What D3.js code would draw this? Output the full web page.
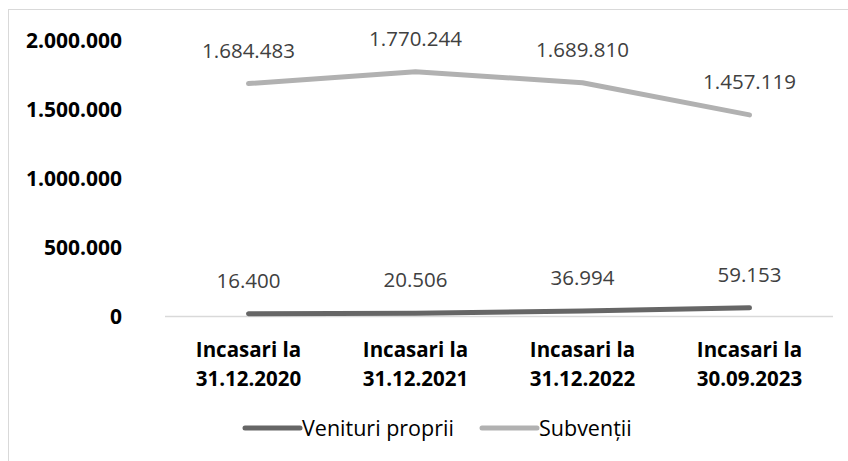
<!DOCTYPE html>
<html>
<head>
<meta charset="utf-8">
<script src="https://cdn.jsdelivr.net/npm/d3@7"></script>
<style>
  body { margin: 0; background: #fff; }
  svg { font-family: 'Open Sans', sans-serif; }
</style>
</head>
<body>
<svg id="chart" width="848" height="461"></svg>
<script>
// data
const categories = ['31.12.2020', '31.12.2021', '31.12.2022', '30.09.2023']
const venituriProprii = [16400, 20506, 36994, 59153]
const subventii = [1684483, 1770244, 1689810, 1457119]
const yTicks = [0, 500000, 1000000, 1500000, 2000000]

const series = [
  { name: 'Venituri proprii', values: venituriProprii, color: '#666666' },
  { name: 'Subvenții', values: subventii, color: '#b1b1b1' }
]

const locale = d3.formatLocale({ decimal: ',', thousands: '.', grouping: [3], currency: ['', ''] })
const fmt = locale.format(',.0f')

const svg = d3.select('#chart')

// outer frame (cut off at right and bottom)
svg.append('rect')
  .attr('x', 8.5).attr('y', 9.5)
  .attr('width', 900).attr('height', 600)
  .attr('fill', 'none')
  .attr('stroke', '#d9d9d9')

const x = d3.scaleBand()
  .domain(categories)
  .range([165, 833])

const y = d3.scaleLinear()
  .domain([0, 2000000])
  .range([316, 40])

// y axis labels
const yAxis = d3.axisLeft(y).tickValues(yTicks).tickFormat(fmt).tickSize(0).tickPadding(0)
svg.append('g')
  .attr('transform', 'translate(122,0)')
  .call(yAxis)
  .call(g => g.select('.domain').remove())
  .selectAll('text')
    .attr('font-family', 'Open Sans, sans-serif')
    .attr('font-size', 21)
    .attr('font-weight', 'bold')
    .attr('fill', '#000')
    .attr('dy', '0.35em')

// x axis line
svg.append('line')
  .attr('x1', x.range()[0]).attr('x2', x.range()[1])
  .attr('y1', y(0) + 0.5).attr('y2', y(0) + 0.5)
  .attr('stroke', '#d9d9d9')
  .attr('stroke-width', 1.3)

// category labels
const cat = svg.append('g').selectAll('text').data(categories)
  .enter().append('text')
  .attr('x', d => x(d) + x.bandwidth() / 2)
  .attr('text-anchor', 'middle')
  .attr('font-size', 20.5)
  .attr('font-weight', 'bold')
  .attr('fill', '#000')
cat.append('tspan').attr('x', d => x(d) + x.bandwidth() / 2).attr('y', 357).text('Incasari la')
cat.append('tspan').attr('x', d => x(d) + x.bandwidth() / 2).attr('y', 386).text(d => d)

const line = d3.line()
  .x((d, i) => x(categories[i]) + x.bandwidth() / 2)
  .y(d => y(d))

svg.append('g').selectAll('path').data(series)
  .enter().append('path')
  .attr('d', d => line(d.values))
  .attr('fill', 'none')
  .attr('stroke', d => d.color)
  .attr('stroke-width', 5)
  .attr('stroke-linecap', 'round')
  .attr('stroke-linejoin', 'round')

// value labels
series.forEach(s => {
  svg.append('g').selectAll('text').data(s.values)
    .enter().append('text')
    .attr('x', (d, i) => x(categories[i]) + x.bandwidth() / 2)
    .attr('y', d => y(d) - 26)
    .attr('text-anchor', 'middle')
    .attr('font-size', 20.5)
    .attr('fill', '#404040')
    .text(d => fmt(d))
})

// legend
const legendX = [245, 482]
const legend = svg.append('g').selectAll('g').data(series)
  .enter().append('g')
  .attr('transform', (d, i) => `translate(${legendX[i]},428)`)
legend.append('line')
  .attr('x1', 0).attr('x2', 55)
  .attr('stroke', d => d.color)
  .attr('stroke-width', 5)
  .attr('stroke-linecap', 'round')
legend.append('text')
  .attr('x', 57)
  .attr('dy', '0.35em')
  .attr('font-size', 21.5)
  .attr('fill', '#000')
  .text(d => d.name)
</script>
</body>
</html>
